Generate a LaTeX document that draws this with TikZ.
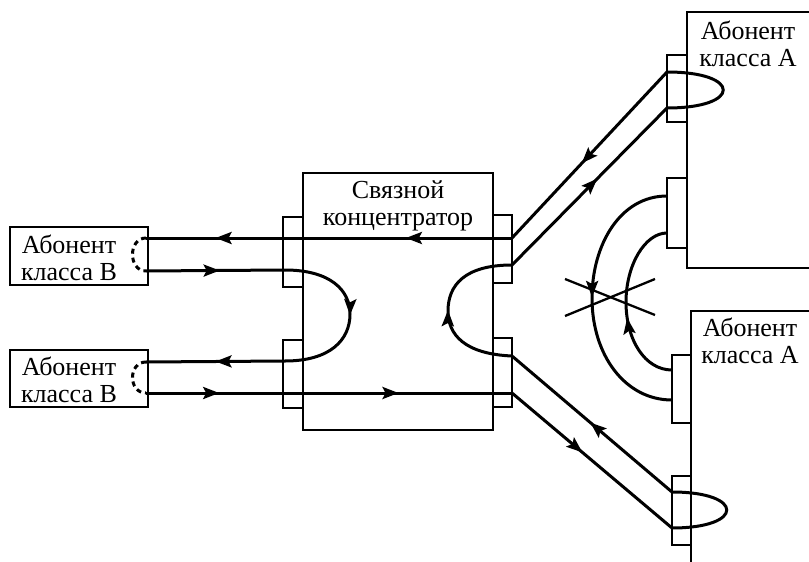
\documentclass[tikz,border=0pt]{standalone}
\usepackage{fontspec}
\setmainfont{Liberation Serif}
\usetikzlibrary{arrows.meta,decorations.markings}
\tikzset{
  wire/.style={line width=3pt},
  frame/.style={line width=2.3pt},
  flow/.style={postaction={decorate,decoration={markings,
    mark=at position #1 with {\arrow{Stealth[length=16pt,width=12pt,inset=3pt]}}}}},
  lbl/.style={align=center,inner sep=0pt,font=\fontsize{26}{27}\selectfont}
}
\begin{document}
\begin{tikzpicture}[x=1pt,y=-1pt]
\useasboundingbox[fill=white] (0,0) rectangle (809,562);
% boxes
\draw[frame] (10,227) rectangle (148,285);
\draw[frame] (10,350) rectangle (148,407);
\draw[frame] (303,173) rectangle (493,430);
\draw[frame] (809,12) -- (687,12) -- (687,268) -- (809,268);
\draw[frame] (809,311) -- (691,311) -- (691,562);
% ports
\foreach \xa/\ya/\xb/\yb in {283/217/303/287,283/340/303/408,493/215/512/283,493/338/512/407,
  667/55/687/122,667/178/687/248,672/355/691/423,672/476/691/545}
{
\draw[frame] (\xa,\ya) rectangle (\xb,\yb);
}
\node[lbl] (subB1) at (69,258) {Абонент\\класса В};
\node[lbl] (subB2) at (69,380) {Абонент\\класса В};
\node[lbl] (hub) at (398,206) {Связной\\концентратор};
\node[lbl] (subA1) at (748,44) {Абонент\\класса А};
\node[lbl] (subA2) at (750,341) {Абонент\\класса А};
% wire ends
\coordinate (b1t) at (146,238);
\coordinate (b1b) at (146,271);
\coordinate (b2t) at (146,362);
\coordinate (b2b) at (146,393);
\coordinate (hL1) at (285,270);
\coordinate (hL2) at (285,361);
\coordinate (hR1) at (512,238);
\coordinate (hR2) at (512,265);
\coordinate (hR3) at (512,356);
\coordinate (hR4) at (512,393);
\coordinate (a1t) at (667,72);
\coordinate (a1b) at (667,108);
\coordinate (a1m) at (667,196);
\coordinate (a1n) at (667,233);
\coordinate (a2m) at (672,370);
\coordinate (a2n) at (672,400);
\coordinate (a2t) at (672,492);
\coordinate (a2b) at (672,528);
% ring
\draw[wire,flow=0.55] (a1t) -- (hR1);
\draw[wire,flow=0.29,flow=0.81] (hR1) -- (b1t);
\draw[wire,dash pattern=on 5pt off 4pt] (b1t) .. controls (128,238) and (128,271) .. (b1b);
\draw[wire,flow=0.53] (b1b) -- (hL1);
\draw[wire,flow=0.5] (hL1) .. controls (330,270) and (350,290) .. (350,314) .. controls (350,340) and (330,361) .. (hL2);
\draw[wire,flow=0.5] (hL2) -- (b2t);
\draw[wire,dash pattern=on 5pt off 4pt] (b2t) .. controls (128,362) and (128,393) .. (b2b);
\draw[wire,flow=0.2,flow=0.69] (b2b) -- (hR4);
\draw[wire,flow=0.44] (hR4) -- (a2b);
\draw[wire] (a2b) .. controls (745,528) and (745,492) .. (a2t);
\draw[wire,flow=0.51] (a2t) -- (hR3);
\draw[wire,flow=0.5] (hR3) .. controls (465,354) and (448,335) .. (448,311) .. controls (448,285) and (465,265) .. (hR2);
\draw[wire,flow=0.55] (hR2) -- (a1b);
\draw[wire] (a1b) .. controls (742,108) and (742,72) .. (a1t);
% crossed link
\draw[wire,flow=0.49] (a1m) .. controls (620,196) and (592,245) .. (592,298) .. controls (592,355) and (625,400) .. (a2n);
\draw[wire,flow=0.42] (a2m) .. controls (645,370) and (626,340) .. (626,302) .. controls (626,265) and (645,233) .. (a1n);
\draw[frame] (565,279) -- (655,315);
\draw[frame] (565,316) -- (655,279);
\end{tikzpicture}
\end{document}
